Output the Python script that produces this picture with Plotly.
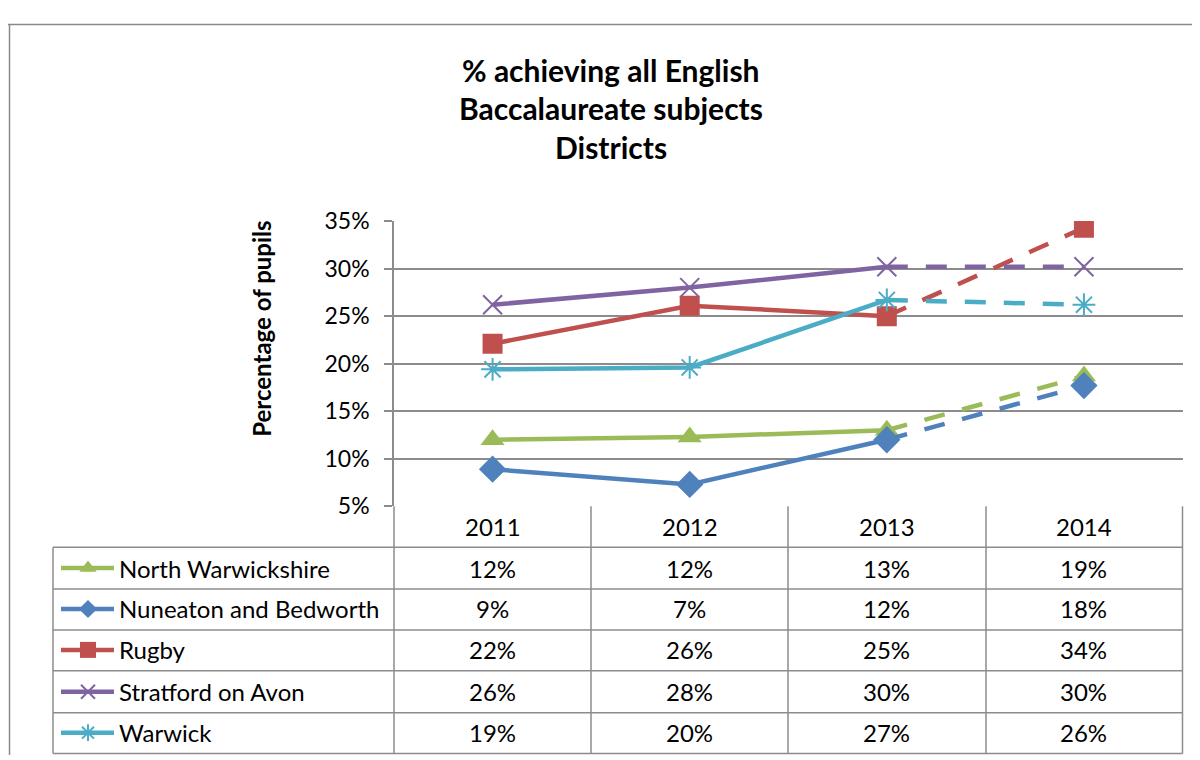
import plotly.graph_objects as go

# ---------------- data ----------------
years = ["2011", "2012", "2013", "2014"]
series_names = ["North Warwickshire", "Nuneaton and Bedworth", "Rugby",
                "Stratford on Avon", "Warwick"]
north_warwickshire = [12.0, 12.3, 13.0, 18.7]
nuneaton_bedworth = [8.9, 7.3, 12.0, 17.7]
rugby = [22.1, 26.1, 25.0, 34.3]
stratford_on_avon = [26.2, 28.0, 30.2, 30.2]
warwick = [19.4, 19.6, 26.7, 26.2]
series_values = [north_warwickshire, nuneaton_bedworth, rugby,
                 stratford_on_avon, warwick]
y_ticks = [5, 10, 15, 20, 25, 30, 35]
y_tick_labels = ["5%", "10%", "15%", "20%", "25%", "30%", "35%"]
title_lines = ["% achieving all English", "Baccalaureate subjects", "Districts"]
y_title = "Percentage of pupils"

# ---------------- styles ----------------
colors = ["#9BBB59", "#4F81BD", "#C0504D", "#8064A2", "#4BACC6"]
symbols = ["triangle-up", "diamond", "square", "x-thin-open", "asterisk-open"]
msizes = [21, 21, 20, 19, 19]
legend_msizes = [15, 14, 16, 14, 14]
FONT = "Lato, Calibri, Carlito, sans-serif"
GRID = "#8C8C8C"
W, H = 1200, 760
# screen-position mapping of the rendered page (offset + vertical extent)
X0, Y0, YH = 8.0, 22.4, 734.0


def px(x):
    return (x - X0) / W


def py(y):
    return 1 - (y - Y0) / YH


fig = go.Figure()
xi = list(range(len(years)))

for name, vals, col, sym, ms in zip(series_names, series_values, colors, symbols, msizes):
    fig.add_trace(go.Scatter(x=years[:3], y=vals[:3], mode="lines",
                             line=dict(color=col, width=4.5),
                             showlegend=False, hoverinfo="skip"))
    fig.add_trace(go.Scatter(x=years[2:], y=vals[2:], mode="lines",
                             line=dict(color=col, width=4.5, dash="21px,18px"),
                             showlegend=False, hoverinfo="skip"))
    mline = dict(color=col, width=2) if "open" in sym else dict(width=0)
    fig.add_trace(go.Scatter(x=years, y=vals, mode="markers", name=name,
                             marker=dict(symbol=sym, size=ms, color=col, line=mline),
                             showlegend=False))

row_top = [548, 589, 630, 672, 713]
row_h = 42
for i, (name, col, sym, ms) in enumerate(zip(series_names, colors, symbols, legend_msizes)):
    cy = row_top[i] + row_h / 2
    fig.add_trace(go.Scatter(x=[61, 88, 114], y=[cy, cy, cy], mode="lines",
                             line=dict(color=col, width=4.5), xaxis="x2", yaxis="y2",
                             showlegend=False, hoverinfo="skip"))
    mline = dict(color=col, width=2) if "open" in sym else dict(width=0)
    fig.add_trace(go.Scatter(x=[88], y=[cy], mode="markers",
                             marker=dict(symbol=sym, size=ms, color=col, line=mline),
                             xaxis="x2", yaxis="y2", showlegend=False, hoverinfo="skip"))

shapes = []
# outer chart border (top and left)
shapes.append(dict(type="line", xref="paper", yref="paper", x0=0, x1=1,
                   y0=py(Y0 + 1.5), y1=py(Y0 + 1.5), line=dict(color="#8A8A8A", width=1.5)))
shapes.append(dict(type="line", xref="paper", yref="paper", x0=px(X0 + 1.5), x1=px(X0 + 1.5),
                   y0=py(Y0 + 1.5), y1=0, line=dict(color="#8A8A8A", width=1.5)))

col_x = [394, 591, 788, 986, 1182.5]
tbl_top, hdr_bot, tbl_bot = 507, 548, 755
for x in col_x:
    shapes.append(dict(type="line", xref="paper", yref="paper", x0=px(x), x1=px(x),
                       y0=py(tbl_top), y1=py(tbl_bot), line=dict(color=GRID, width=1.5)))
shapes.append(dict(type="line", xref="paper", yref="paper", x0=px(53), x1=px(53),
                   y0=py(hdr_bot), y1=py(tbl_bot), line=dict(color=GRID, width=1.5)))
for y in [hdr_bot] + [r + row_h for r in row_top[:-1]] + [tbl_bot]:
    shapes.append(dict(type="line", xref="paper", yref="paper", x0=px(53), x1=px(1182.5),
                       y0=py(y), y1=py(y), line=dict(color=GRID, width=1.5)))

annotations = []
for line, ty in zip(title_lines, [70, 108, 147]):
    annotations.append(dict(text="<b>%s</b>" % line, x=px(611), y=py(ty), xref="paper",
                            yref="paper", showarrow=False, xanchor="center", yanchor="middle",
                            font=dict(family=FONT, size=30, color="#000000")))
annotations.append(dict(text="<b>%s</b>" % y_title, x=px(262), y=py(329), xref="paper",
                        yref="paper", showarrow=False, textangle=-90, xanchor="center",
                        yanchor="middle", font=dict(family=FONT, size=24, color="#000000")))
for k, yr in zip(xi, years):
    annotations.append(dict(text=yr, x=k, y=py(527.5), xref="x", yref="paper",
                            showarrow=False, xanchor="center", yanchor="middle",
                            font=dict(family=FONT, size=24, color="#000000")))
for i, (name, vals) in enumerate(zip(series_names, series_values)):
    cy = row_top[i] + row_h / 2
    annotations.append(dict(text=name, x=px(117), y=py(cy), xref="paper", yref="paper",
                            showarrow=False, xanchor="left", yanchor="middle",
                            font=dict(family=FONT, size=24, color="#000000")))
    for k, v in zip(xi, vals):
        annotations.append(dict(text="%d%%" % round(v), x=k, y=py(cy), xref="x",
                                yref="paper", showarrow=False, xanchor="center",
                                yanchor="middle",
                                font=dict(family=FONT, size=24, color="#000000")))

fig.update_layout(
    width=W, height=H, autosize=False,
    margin=dict(l=0, r=0, t=0, b=0),
    paper_bgcolor="white", plot_bgcolor="rgba(0,0,0,0)",
    showlegend=False,
    shapes=shapes, annotations=annotations,
    xaxis=dict(domain=[px(394), px(1182.5)], type="category", categoryorder="array",
               categoryarray=years, range=[-0.5, 3.5], showticklabels=False,
               showgrid=False, zeroline=False, showline=False, ticks=""),
    yaxis=dict(domain=[py(507), py(221)], range=[5, 35], tickvals=y_ticks,
               ticktext=y_tick_labels, showgrid=True, gridcolor=GRID, gridwidth=1.5,
               zeroline=False, showline=True, linecolor=GRID, linewidth=1.5,
               ticks="outside", ticklen=8, tickcolor=GRID, tickwidth=1.5,
               tickfont=dict(family=FONT, size=23, color="#000000"), ticklabelstandoff=10),
    xaxis2=dict(domain=[0, 1], range=[X0, X0 + W], visible=False, anchor="y2"),
    yaxis2=dict(domain=[0, 1], range=[Y0 + YH, Y0], visible=False, anchor="x2"),
)

fig.write_html("out.html")
